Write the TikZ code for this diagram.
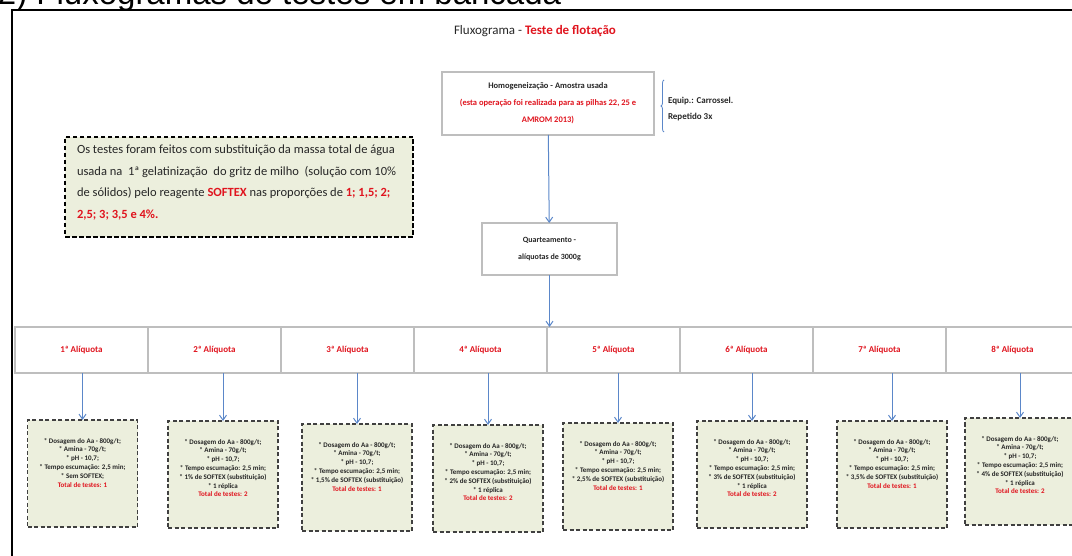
\documentclass[tikz,border=0pt]{standalone}
\usepackage{fontspec}
\setmainfont{Carlito}
\newfontfamily\headfont{Liberation Sans}
\usepackage{xcolor}
\usetikzlibrary{arrows.meta,positioning,decorations.pathreplacing}

\definecolor{txtred}{HTML}{E0141E}
\definecolor{txtdark}{HTML}{262626}
\definecolor{flowblue}{HTML}{5B87C9}
\definecolor{boxgray}{HTML}{BEBEBE}
\definecolor{notefill}{HTML}{ECEFDD}

\newcommand{\detcommon}{* Dosagem do Aa - 800g/t;\\* Amina - 70g/t;\\* pH - 10,7;\\* Tempo escumação: 2,5 min;}

\begin{document}
\begin{tikzpicture}[
  x=1pt,y=-1pt,
  every node/.style={inner sep=0pt,outer sep=0pt},
  flowbox/.style={draw=boxgray,line width=1.4pt,fill=white,align=center,text=txtdark,font=\fontsize{8.5}{17}\selectfont\bfseries},
  aliqbox/.style={draw=boxgray,line width=1.2pt,fill=white,minimum width=133pt,minimum height=46pt,text=txtred,font=\fontsize{9}{10}\selectfont\bfseries},
  notebox/.style={draw=black,line width=1.8pt,dash pattern=on 4.5pt off 2.5pt,fill=notefill,minimum width=348pt,minimum height=100pt},
  detbox/.style={draw=black!75,line width=1.6pt,dash pattern=on 4pt off 2.5pt,fill=notefill,minimum width=110pt,minimum height=107pt},
  dettext/.style={align=center,text=txtdark,font=\fontsize{7}{8.8}\selectfont\bfseries},
  flowarrow/.style={-{Straight Barb[length=5pt,width=7pt]},draw=flowblue,line width=1pt},
]
\useasboundingbox (0,0) rectangle (1072,556);

% heading and frame
\node[anchor=base west,font=\headfont\fontsize{33}{34}\selectfont] (head) at (-2,5) {2) Fluxogramas de testes em bancada};
\draw[line width=2pt] (12,560) -- (12,10) -- (1080,10);
\node[anchor=base,font=\fontsize{13}{15}\selectfont,text=txtdark] (title) at (535,35) {Fluxograma - \textcolor{txtred}{\bfseries Teste de flotação}};

% upper steps
\node[flowbox,minimum width=212pt,minimum height=63pt] (homog) at (548,103.5) {Homogeneização - Amostra usada\\
  \textcolor{txtred}{(esta operação foi realizada para as pilhas 22, 25 e}\\
  \textcolor{txtred}{AMROM 2013)}};
\node[anchor=west,align=left,text=txtdark,font=\fontsize{9}{16}\selectfont\bfseries] (equip) at (668,109) {Equip.: Carrossel.\\Repetido 3x};
\coordinate (brbot) at (664,132);
\coordinate (brtop) at (664,80);
\draw[flowblue,line width=0.8pt,decorate,decoration={brace,amplitude=3pt}] (brbot) -- (brtop);
\node[flowbox,minimum width=135pt,minimum height=52pt,font=\fontsize{8}{17}\selectfont\bfseries] (quart) at (549.5,249) {Quarteamento -\\alíquotas de 3000g};
\draw[flowarrow] (homog) -- (quart);

% note
\node[notebox] (note) at (239,187) {};
\node[below right=8pt and 12pt of note.north west,align=left,text=txtdark,font=\fontsize{12.5}{21.5}\selectfont] (notetext)
  {Os testes foram feitos com substituição da massa total de água\\
   usada na\ \ 1ª gelatinização\ \ do gritz de milho\ \ (solução com 10\%\\
   de sólidos) pelo reagente \textcolor{txtred}{\bfseries SOFTEX} nas proporções de \textcolor{txtred}{\bfseries 1; 1,5; 2;}\\
   \textcolor{txtred}{\bfseries 2,5; 3; 3,5 e 4\%.}};

% aliquots
\foreach \i in {1,...,8}
  \node[aliqbox] (al\i) at ({15+133*(\i-0.5)},350) {{\i}ª Alíquota};
\draw[flowarrow] (quart.south) -- (al5.north -| quart.south);

\foreach \i/\cx/\ty/\extra/\tot in {
    1/82.5/420/{* Sem SOFTEX;}/1,
    2/223/421/{* 1\% de SOFTEX (substituição)\\* 1 réplica}/2,
    3/357/424/{* 1,5\% de SOFTEX (substituição)}/1,
    4/488/425/{* 2\% de SOFTEX (substituição)\\* 1 réplica}/2,
    5/618/423/{* 2,5\% de SOFTEX (substituição)}/1,
    6/752/421/{* 3\% de SOFTEX (substituição)\\* 1 réplica}/2,
    7/892/421/{* 3,5\% de SOFTEX (substituição)}/1,
    8/1020/418/{* 4\% de SOFTEX (substituição)\\* 1 réplica}/2}{
  \node[detbox] (det\i) at (\cx,\ty+53.5) {};
  \node[dettext,below=18pt of det\i.north] (dtx\i) {\detcommon\\\extra\\\textcolor{txtred}{Total de testes: \tot}};
  \draw[flowarrow] (det\i.north |- al\i.south) -- (det\i.north);
}
\end{tikzpicture}
\end{document}
